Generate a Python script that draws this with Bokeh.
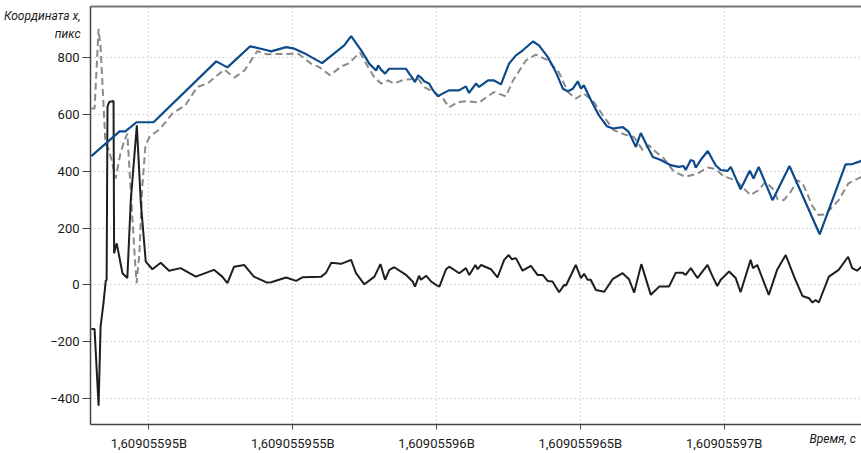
from bokeh.plotting import figure
from bokeh.models import FixedTicker, LinearAxis, Range1d
from bokeh.embed import file_html
from bokeh.resources import INLINE

# x values are in the chart's own time units: T0 + offset
T0 = 1609055950
x_ticks = [1609055950, 1609055955, 1609055960, 1609055965, 1609055970]
x_tick_labels = ["1,60905595B", "1,609055955B", "1,60905596B", "1,609055965B", "1,60905597B"]
y_ticks = [-400, -200, 0, 200, 400, 600, 800]
y_tick_labels = ["\u2212400", "\u2212200", "0", "200", "400", "600", "800"]

# Blue solid series
blue_t = [-2.00, -1.02, -0.82, -0.43, 0.16, 2.34, 2.73, 3.52, 4.11, 4.25, 4.77, 5.02, 5.40,
          6.02, 6.79, 7.03, 7.38, 7.66, 7.90, 7.97, 8.07, 8.21, 8.35, 8.94, 9.05, 9.18, 9.25,
          9.36, 9.46, 9.57, 9.74, 9.88, 10.05, 10.16, 10.43, 10.78, 11.02, 11.13, 11.37, 11.48,
          11.79, 12.00, 12.24, 12.52, 12.76, 13.00, 13.35, 13.56, 13.87, 14.15, 14.39, 14.57,
          14.74, 14.91, 15.02, 15.12, 15.37, 15.64, 15.92, 16.13, 16.48, 16.68, 16.93, 17.10,
          17.31, 17.52, 17.80, 18.14, 18.42, 18.59, 18.66, 18.84, 18.94, 19.01, 19.18, 19.43,
          19.60, 19.71, 19.88, 20.12, 20.23, 20.57, 20.89, 21.02, 21.20, 21.68, 22.27, 23.32,
          24.22, 24.46, 24.77]
blue_y = [453, 540, 540, 572, 572, 786, 765, 839, 825, 821, 836, 832, 815,
          780, 842, 875, 825, 778, 754, 772, 757, 743, 760, 760, 743, 725, 713,
          737, 729, 716, 708, 684, 663, 670, 684, 684, 698, 675, 708, 696,
          719, 719, 705, 778, 807, 825, 856, 842, 801, 748, 690, 681,
          690, 716, 690, 702, 649, 597, 558, 550, 555, 538, 485, 534,
          491, 450, 439, 421, 415, 418, 404, 439, 435, 412, 439, 471,
          439, 420, 404, 401, 415, 336, 401, 374, 415, 298, 418, 178,
          424, 425, 436]

# Grey dashed series
grey_t = [-2.00, -1.89, -1.75, -1.68, -1.51, -1.41, -1.30, -1.16, -0.99, -0.85, -0.75, -0.64,
          -0.50, -0.43, -0.33, -0.23, -0.12, 0.02, 0.40, 0.82, 1.27, 1.68, 2.03, 2.62, 2.97,
          3.32, 3.77, 4.11, 5.19, 5.64, 5.92, 6.30, 6.68, 6.93, 7.34, 7.62, 7.83, 8.07, 8.32,
          8.52, 8.87, 9.36, 9.57, 9.98, 10.23, 10.43, 10.75, 11.02, 11.48, 11.72, 12.00, 12.41,
          12.66, 13.11, 13.45, 13.87, 14.25, 14.57, 14.84, 15.12, 15.47, 15.82, 16.16, 16.51,
          16.86, 17.17, 17.38, 17.62, 17.90, 18.25, 18.66, 19.08, 19.43, 19.71, 19.98, 20.40,
          20.68, 20.92, 21.16, 21.44, 21.68, 21.86, 22.07, 22.31, 22.55, 22.73, 23.07, 23.28,
          23.52, 23.98, 24.32, 24.77]
grey_y = [620, 620, 900, 836, 497, 480, 439, 374, 462, 509, 532, 345,
          111, 6, 111, 345, 491, 520, 550, 603, 632, 696, 708, 757, 729,
          754, 822, 811, 813, 778, 766, 737, 768, 778, 817, 766, 731, 708, 719,
          708, 722, 725, 696, 673, 655, 624, 643, 646, 641, 659, 678, 663,
          719, 790, 810, 790, 748, 678, 655, 673, 643, 591, 544, 530,
          520, 474, 491, 468, 445, 398, 380, 392, 413, 407, 382, 368,
          339, 316, 331, 362, 339, 301, 298, 327, 368, 357, 277, 246,
          248, 298, 357, 380]

# Black solid series
black_t = [-2.00, -1.89, -1.75, -1.68, -1.58, -1.50, -1.47, -1.44, -1.38, -1.23, -1.21, -1.12,
           -1.03, -0.92, -0.75, -0.63, -0.42, -0.28, -0.11, 0.12, 0.41, 0.70, 1.10, 1.63, 2.26,
           2.55, 2.73, 2.96, 3.31, 3.65, 4.11, 4.25, 4.77, 5.12, 5.35, 5.99, 6.16, 6.34, 6.68,
           7.03, 7.20, 7.49, 7.84, 8.05, 8.21, 8.36, 8.53, 8.94, 9.17, 9.25, 9.39, 9.46, 9.64,
           9.81, 9.98, 10.10, 10.33, 10.44, 10.79, 11.02, 11.14, 11.35, 11.43, 11.55, 11.89,
           12.12, 12.35, 12.51, 12.62, 12.76, 12.99, 13.28, 13.51, 13.69, 13.86, 14.03, 14.26,
           14.44, 14.50, 14.84, 15.02, 15.13, 15.25, 15.36, 15.54, 15.83, 16.12, 16.47, 16.69,
           16.87, 17.12, 17.45, 17.74, 18.08, 18.32, 18.55, 18.66, 18.84, 19.07, 19.42, 19.60,
           19.76, 19.88, 20.17, 20.40, 20.57, 20.92, 21.00, 21.15, 21.55, 21.84, 22.14, 22.43,
           22.72, 22.95, 23.07, 23.18, 23.29, 23.64, 23.98, 24.31, 24.45, 24.62, 24.77]
black_y = [-155, -155, -425, -146, -64, 15, 18, 628, 643, 647, 111, 146,
           99, 41, 24, 298, 561, 287, 82, 55, 78, 50, 59, 29, 53,
           29, 6, 64, 70, 29, 8, 9, 26, 14, 27, 29, 43, 78, 74,
           88, 41, 2, 29, 73, 18, 53, 62, 35, 12, -6, 32, 18, 32,
           12, 0, -6, 55, 64, 41, 59, 35, 70, 55, 70, 55,
           26, 88, 105, 90, 94, 50, 67, 35, 35, 14, 12, -26,
           0, -2, 70, 24, 39, 18, 18, -18, -24, 20, 41, 20,
           -27, 73, -35, -6, -6, 43, 43, 35, 59, 24, 70, 29,
           -4, 18, 47, 24, -26, 88, 59, 70, -35, 53, 105, 29,
           -39, -47, -62, -53, -62, 29, 53, 99, 59, 50, 64]

# axis titles, each tied to the axis value where the reference shows it
y_title_lines = ["Координата x,", "пикс"]
y_title_at = [947, 884]
x_title = "Время, с"
x_title_at = 1609055973.77

FONT = "Roboto"

x0 = T0 - 2.031
x1 = T0 + 24.774
y0 = -491
y1 = 979

p = figure(width=861, height=453, output_backend="svg", toolbar_location=None,
           x_range=Range1d(x0, x1), y_range=Range1d(y0, y1),
           min_border_left=89, min_border_right=0, min_border_top=6, min_border_bottom=28)
p.outline_line_color = None
p.background_fill_color = "white"

# grids
for g in (p.xgrid, p.ygrid):
    g.grid_line_color = "#b0b0b0"
    g.grid_line_dash = "1 3"
    g.grid_line_width = 1

# x axis
xa = p.xaxis[0]
xa.ticker = FixedTicker(ticks=x_ticks)
xa.major_label_overrides = {t: l for t, l in zip(x_ticks, x_tick_labels)}
xa.minor_tick_line_color = None
xa.major_tick_in = 0
xa.major_tick_out = 5
xa.major_tick_line_color = "#444444"
xa.axis_line_color = "#444444"
xa.axis_line_width = 1.5
xa.major_label_text_font = FONT
xa.major_label_text_font_size = "13px"
xa.major_label_text_color = "#1a1a1a"
xa.major_label_standoff = 6

# y axis
ya = p.yaxis[0]
ya.ticker = FixedTicker(ticks=y_ticks)
ya.major_label_overrides = {t: l for t, l in zip(y_ticks, y_tick_labels)}
ya.minor_tick_line_color = None
ya.major_tick_in = 0
ya.major_tick_out = 8
ya.major_tick_line_color = "#444444"
ya.axis_line_color = "#444444"
ya.axis_line_width = 1.5
ya.major_label_text_font = FONT
ya.major_label_text_font_size = "13px"
ya.major_label_text_color = "#1a1a1a"
ya.major_label_standoff = 3

# title "axes": no line, no ticks, only the title text as a label
def title_axis(ticks, labels, standoff):
    ax = LinearAxis(ticker=FixedTicker(ticks=ticks),
                    major_label_overrides={t: l for t, l in zip(ticks, labels)},
                    axis_line_color=None, major_tick_line_color=None, minor_tick_line_color=None,
                    major_tick_in=0, major_tick_out=0, major_label_standoff=standoff,
                    major_label_text_font=FONT, major_label_text_font_size="12px",
                    major_label_text_font_style="italic", major_label_text_color="#1a1a1a")
    return ax

p.add_layout(title_axis(y_title_at, y_title_lines, -33), "left")
p.add_layout(title_axis([x_title_at], [x_title], -22), "below")

# top frame line
top = LinearAxis(ticker=FixedTicker(ticks=[]), axis_line_color="#777777", axis_line_width=2,
                 major_tick_line_color=None, minor_tick_line_color=None)
p.add_layout(top, "above")

# series
p.line([T0 + t for t in grey_t], grey_y, line_color="#8a8a8a", line_width=2, line_dash="7 4")
p.line([T0 + t for t in black_t], black_y, line_color="#1e1e1e", line_width=2)
p.line([T0 + t for t in blue_t], blue_y, line_color="#0d4a8a", line_width=2.2)

open("out.html", "w").write(file_html(p, INLINE))
